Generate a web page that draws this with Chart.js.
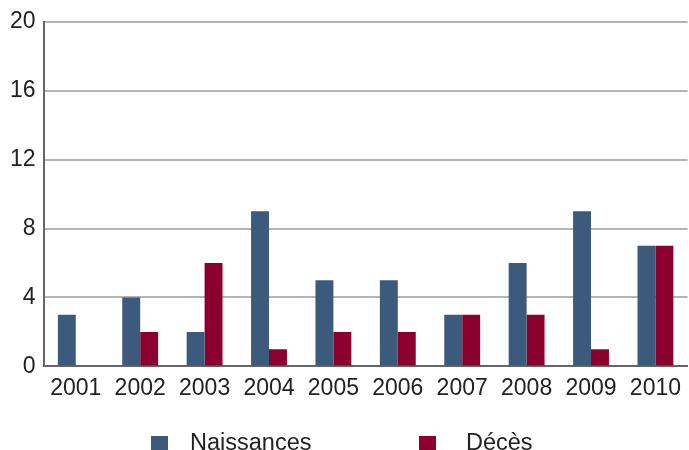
<!DOCTYPE html>
<html>
<head>
<meta charset="utf-8">
<script src="https://cdn.jsdelivr.net/npm/chart.js@4/dist/chart.umd.min.js"></script>
<style>
  html, body { margin: 0; padding: 0; background: #fff; }
  #wrap { width: 689px; height: 450px; }
</style>
</head>
<body>
<div id="wrap"><canvas id="myChart"></canvas></div>
<script>
const years = ['2001', '2002', '2003', '2004', '2005', '2006', '2007', '2008', '2009', '2010'];
const naissances = [3, 4, 2, 9, 5, 5, 3, 6, 9, 7];
const deces = [0, 2, 6, 1, 2, 2, 3, 3, 1, 7];
const yTicks = [0, 4, 8, 12, 16, 20];

const FONT = 'Liberation Sans, Arial, sans-serif';

// legend drawn by hand so the box/text spacing matches
const bottomLegend = {
    id: 'bottomLegend',
    afterDraw(chart) {
        const ctx = chart.ctx;
        const spots = [[151, 190], [419, 466]];
        ctx.save();
        ctx.font = '23.5px ' + FONT;
        ctx.textBaseline = 'middle';
        chart.data.datasets.forEach((ds, i) => {
            const [bx, tx] = spots[i];
            ctx.fillStyle = ds.backgroundColor;
            ctx.fillRect(bx, 436, 17, 17);
            ctx.fillStyle = '#222';
            ctx.fillText(ds.label, tx, 444);
        });
        ctx.restore();
    }
};

const data = {
    labels: years,
    datasets: [{
        label: 'Naissances',
        backgroundColor: '#3c5a7c',
        data: naissances,
        categoryPercentage: 0.557,
        barPercentage: 1
    }, {
        label: 'Décès',
        backgroundColor: '#8c0030',
        data: deces,
        categoryPercentage: 0.557,
        barPercentage: 1
    }]
};

const config = {
    type: 'bar',
    data: data,
    plugins: [bottomLegend],
    options: {
        responsive: true,
        maintainAspectRatio: false,
        animation: false,
        layout: {
            padding: { left: 2, right: 0, top: 8, bottom: 40 }
        },
        plugins: {
            legend: { display: false },
            tooltip: { enabled: false }
        },
        scales: {
            x: {
                grid: { display: false, drawTicks: false },
                border: { color: '#666', width: 2 },
                ticks: { color: '#222', font: { family: FONT, size: 23 }, padding: 8 }
            },
            y: {
                min: 0,
                max: 20,
                afterBuildTicks: (axis) => { axis.ticks = yTicks.map(v => ({ value: v })); },
                grid: { color: '#b4b4b4', lineWidth: 2, drawTicks: false },
                border: { color: '#666', width: 2 },
                ticks: { color: '#222', font: { family: FONT, size: 23 }, padding: 8 }
            }
        }
    }
};

const myChart = new Chart(document.getElementById('myChart'), config);
</script>
</body>
</html>
